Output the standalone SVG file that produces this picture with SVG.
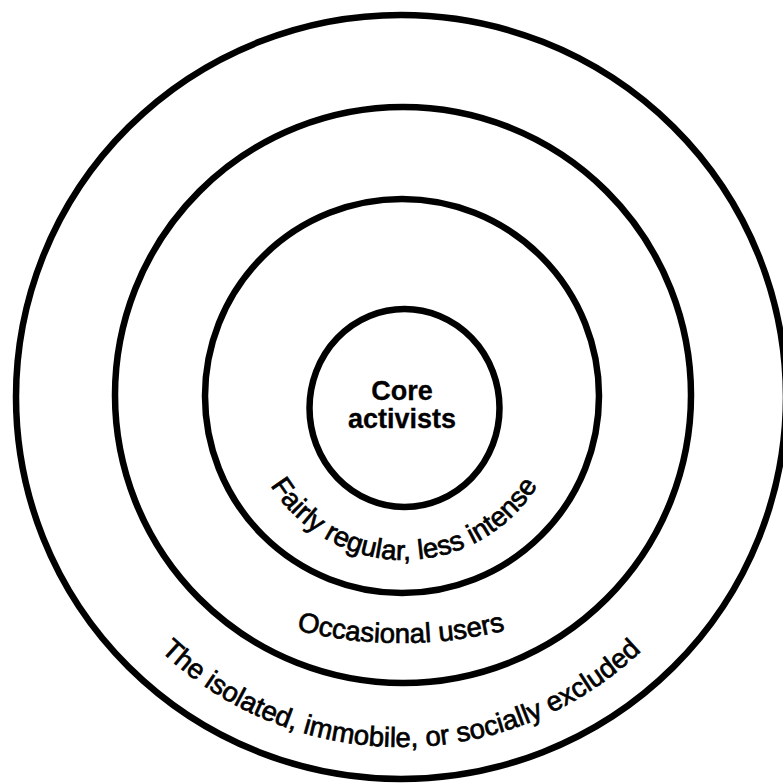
<svg xmlns="http://www.w3.org/2000/svg" width="783" height="783" viewBox="0 0 783 783">
<style>
.ring{fill:none;stroke:#000;stroke-width:6.5}
.lbl{font-family:"Liberation Sans",Arial,sans-serif;font-size:27.5px;fill:#000;stroke:#000;stroke-width:0.7}
.core{font-weight:bold;font-size:27px;stroke-width:0.3}
</style>
<defs>
<path id="pFairly" d="M 247 403 A 157 157 0 0 0 561 403"/>
<path id="pOcc" d="M 26 426.5 A 433 433 0 0 0 776 426.5"/>
<path id="pIso" d="M 52 398 A 349 349 0 0 0 750 398"/>
</defs>
<rect width="783" height="783" fill="#fff"/>
<g id="outer">
<ellipse class="ring" cx="401" cy="397" rx="385" ry="382"/>
<text class="lbl"><textPath href="#pIso" startOffset="50%" text-anchor="middle">The isolated, immobile, or socially excluded</textPath></text>
</g>
<g id="occasional">
<circle class="ring" cx="403" cy="395" r="288"/>
<text class="lbl"><textPath href="#pOcc" startOffset="50%" text-anchor="middle">Occasional users</textPath></text>
</g>
<g id="fairly">
<circle class="ring" cx="402" cy="396" r="197"/>
<text class="lbl"><textPath href="#pFairly" startOffset="50%" text-anchor="middle">Fairly regular, less intense</textPath></text>
</g>
<g id="core">
<ellipse class="ring" cx="404.5" cy="408" rx="95" ry="99"/>
<text class="lbl core" x="402" y="400" text-anchor="middle">Core</text>
<text class="lbl core" x="402" y="428" text-anchor="middle">activists</text>
</g>
<g id="connectors"/>
</svg>
